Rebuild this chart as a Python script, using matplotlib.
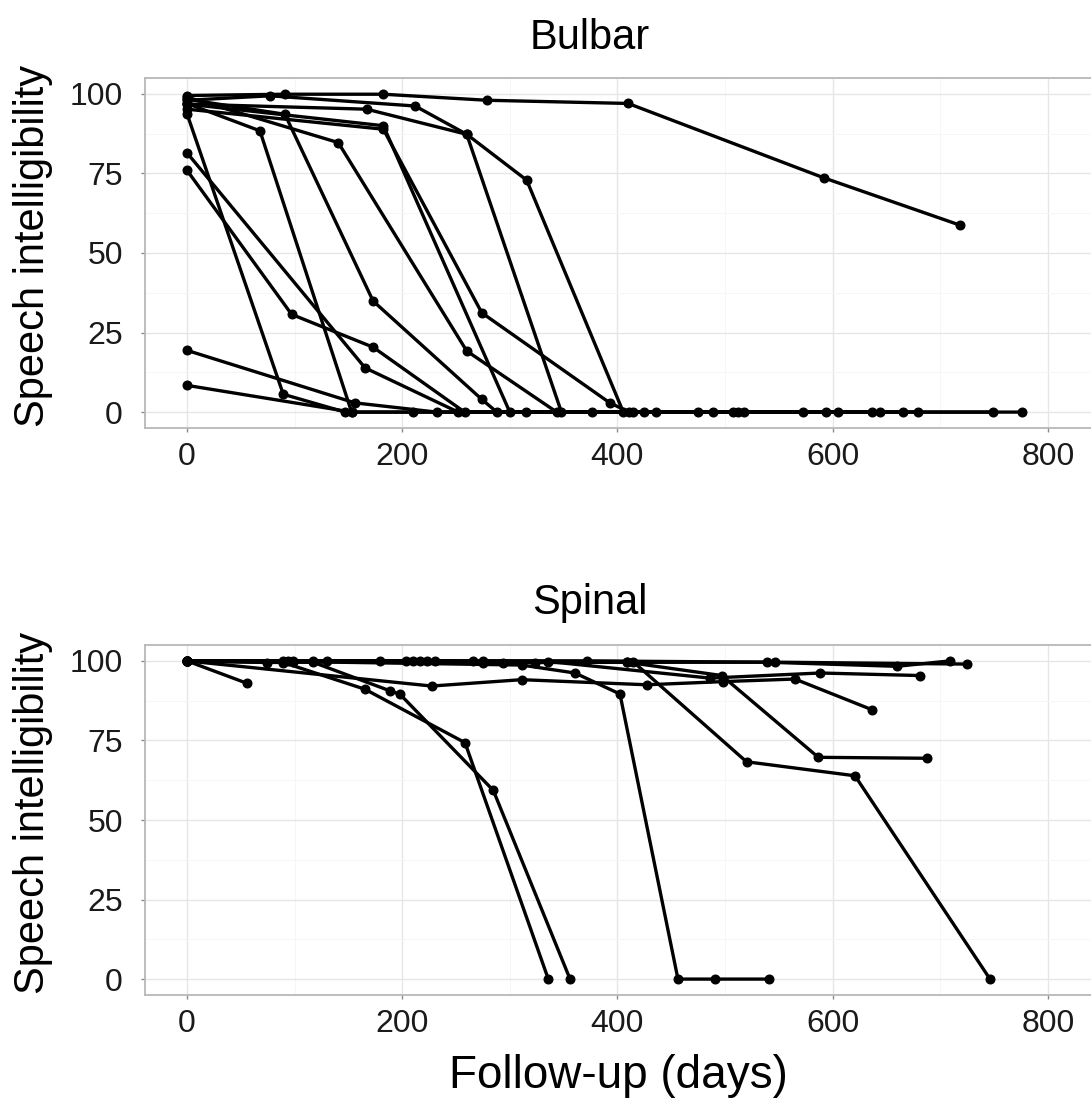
import matplotlib as mpl
mpl.use('Agg')
import matplotlib.pyplot as plt
from matplotlib.ticker import MultipleLocator

mpl.rcParams.update({'font.family': 'Liberation Sans'})

# ---- Bulbar patients: follow-up day / speech intelligibility per visit ----
bulbar_days = [
    [0, 89.5, 147, 210, 315, 425, 517.7],
    [0, 153, 414.5],
    [0, 67.8, 153],
    [0, 156, 232, 376, 489],
    [0, 165.5, 252, 436, 604.8],
    [0, 97.3, 173, 258, 475, 665.4],
    [0, 91, 173, 274, 288, 507, 636.8],
    [0, 182.5, 300, 512.5],
    [0, 140.6, 260, 343.6, 572.8, 748.9],
    [0, 167, 260, 348, 594, 679.6],
    [0, 182.5, 274, 393, 411, 644, 775.6],
    [0, 77, 212, 260, 315.7, 405.5],
    [0, 91, 182.5, 279, 410, 592, 718],
]
bulbar_scores = [
    [93.8, 5.6, 0, 0, 0, 0, 0],
    [8.4, 0, 0],
    [97, 88.4, 0],
    [19.4, 2.9, 0, 0, 0],
    [81.5, 13.9, 0, 0, 0],
    [76, 30.7, 20.4, 0, 0, 0],
    [98.3, 93.6, 34.9, 4, 0, 0, 0],
    [96.8, 90, 0, 0],
    [99, 84.7, 19.2, 0, 0, 0],
    [96.8, 95.2, 87.3, 0, 0, 0],
    [95.2, 88.9, 31.2, 2.9, 0, 0, 0],
    [98, 99.4, 96.2, 87.3, 72.9, 0],
    [99.5, 99.9, 99.9, 98, 97, 73.6, 58.8],
]

# ---- Spinal patients ----
spinal_days = [
    [0, 89.5, 165.4, 258.4, 335.8],
    [0, 117, 188.7, 198, 284.7, 356],
    [0, 99, 311, 360.6, 402.4, 456.3, 490.7, 541],
    [0, 99, 204, 294, 414.8, 520, 620.8, 746.3],
    [0, 89.5, 210, 323.4, 408.6, 497, 586.7, 687.4],
    [0, 227.4, 311, 427.2, 498.4, 565, 636.3],
    [0, 74, 216.5, 335.8, 486, 588.3, 681.2],
    [0, 130, 222.8, 371.5, 538.7, 659.6, 709],
    [0, 117, 230.5, 274.8, 546.5, 724.6],
    [0, 55.5],
    [0, 94, 179, 266, 275, 408.6],
]
spinal_scores = [
    [100, 99.5, 91.1, 74.3, 0],
    [100, 99.6, 90.6, 89.5, 59.3, 0],
    [100, 99.8, 98.7, 96.2, 89.6, 0, 0, 0],
    [100, 100, 100, 99.5, 99.7, 68.3, 63.9, 0],
    [100, 100, 100, 99.5, 99.6, 95.4, 69.7, 69.4],
    [100, 92.1, 94.1, 92.5, 93.5, 94.3, 84.7],
    [100, 99.5, 100, 99.8, 94.6, 96.2, 95.4],
    [100, 100, 100, 100, 99.6, 98.3, 100],
    [100, 100, 100, 99.5, 99.6, 99],
    [100, 93],
    [100, 100, 100, 100, 100, 99.8],
]

W, H = 1091, 1104
fig = plt.figure(figsize=(W / 100, H / 100), dpi=100)

def panel(top_px, days, scores, title, title_y):
    ax = fig.add_axes([145 / W, 1 - (top_px + 350) / H, (1096 - 145) / W, 350 / H])
    for d, s in zip(days, scores):
        ax.plot(d, s, '-o', color='black', lw=2.4, ms=6.2, zorder=3)
    ax.set_xlim(-39, 844.8)
    ax.set_ylim(-5, 105)
    ax.xaxis.set_major_locator(MultipleLocator(200))
    ax.xaxis.set_minor_locator(MultipleLocator(100))
    ax.yaxis.set_major_locator(MultipleLocator(25))
    ax.yaxis.set_minor_locator(MultipleLocator(12.5))
    ax.grid(which='major', color='#e6e6e6', lw=1.0, zorder=0)
    ax.grid(which='minor', color='#f6f6f6', lw=0.7, zorder=0)
    ax.set_axisbelow(True)
    for s in ax.spines.values():
        s.set_color('#b8b8b8'); s.set_linewidth(1.3)
    ax.tick_params(which='major', length=3, width=1, color='#8a8a8a',
                   labelsize=23, labelcolor='#1a1a1a')
    ax.tick_params(axis='y', pad=13)
    ax.tick_params(axis='x', pad=7)
    ax.tick_params(which='minor', length=0)
    fig.text(590 / W, 1 - title_y / H, title, fontsize=30, ha='center', va='center')
    fig.text(33 / W, 1 - (top_px + 168) / H, 'Speech intelligibility', fontsize=30,
             rotation=90, ha='center', va='center')
    return ax

panel(78, bulbar_days, bulbar_scores, 'Bulbar', 38)
panel(645, spinal_days, spinal_scores, 'Spinal', 603)
fig.text(618 / W, 1 - 1076 / H, 'Follow-up (days)', fontsize=33, ha='center', va='center')

fig.savefig('out.png', dpi=100)
